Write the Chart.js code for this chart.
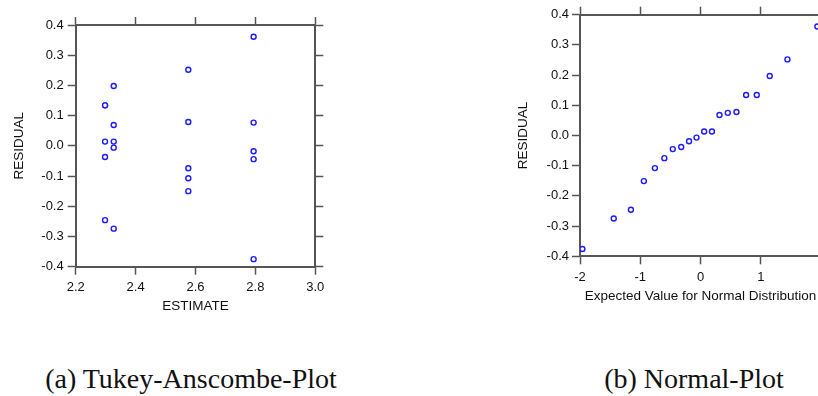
<!DOCTYPE html>
<html>
<head>
<meta charset="utf-8">
<script src="https://cdn.jsdelivr.net/npm/chart.js@4/dist/chart.umd.min.js"></script>
<style>
    html, body { margin: 0; padding: 0; background: #fff; overflow: hidden; width: 818px; height: 396px; }
    .plot { position: absolute; top: 0; }
    .caption { position: absolute; top: 365px; width: 340px; text-align: center; font-family: "Liberation Serif", serif; font-size: 28px; line-height: 28px; color: #111; white-space: nowrap; }
</style>
</head>
<body>
<div class="plot" style="left:0px"><canvas id="tukeyChart" width="340" height="320"></canvas></div>
<div class="plot" style="left:500px"><canvas id="normalChart" width="340" height="320"></canvas></div>
<div class="caption" style="left:21px">(a) Tukey-Anscombe-Plot</div>
<div class="caption" style="left:524px">(b) Normal-Plot</div>

<script>
// data
const tukeyEstimate = [2.298, 2.298, 2.298, 2.298, 2.298,
                       2.327, 2.327, 2.327, 2.327, 2.327,
                       2.576, 2.576, 2.576, 2.576, 2.576,
                       2.794, 2.794, 2.794, 2.794, 2.794];
const tukeyResidual = [0.134, 0.134, 0.014, -0.037, -0.246,
                       0.198, 0.069, 0.014, -0.006, -0.274,
                       0.252, 0.079, -0.074, -0.107, -0.150,
                       0.361, 0.077, -0.018, -0.044, -0.375];

const normalExpected = [-1.96, -1.44, -1.155, -0.94, -0.757, -0.60, -0.46, -0.32, -0.19, -0.066,
                        0.061, 0.19, 0.315, 0.453, 0.597, 0.757, 0.934, 1.149, 1.443, 1.94];
const normalResidual = [-0.376, -0.275, -0.246, -0.151, -0.108, -0.075, -0.045, -0.038, -0.019, -0.007,
                        0.013, 0.013, 0.068, 0.075, 0.078, 0.134, 0.134, 0.197, 0.252, 0.361];

// tick labels
const residualTicks = [-0.4, -0.3, -0.2, -0.1, 0.0, 0.1, 0.2, 0.3, 0.4];
const estimateTicks = [2.2, 2.4, 2.6, 2.8, 3.0];
const expectedTicks = [-2, -1, 0, 1, 2];

const axisColor = '#555555';
const markerColor = '#1c1cff';
const sansFont = '"Liberation Sans", Arial, sans-serif';

function toPoints(xs, ys) {
    return xs.map((x, i) => ({ x: x, y: ys[i] }));
}

// one linear axis with outside ticks only, size fixed so the plot area lands where it should
function makeAxis(position, tickValues, size, opts) {
    const horizontal = position === 'top' || position === 'bottom';
    return {
        type: 'linear',
        position: position,
        min: tickValues[0],
        max: tickValues[tickValues.length - 1],
        afterBuildTicks: function (axis) {
            axis.ticks = tickValues.map(v => ({ value: v }));
        },
        afterFit: function (axis) {
            if (horizontal) {
                axis.height = size;
            } else {
                axis.width = size;
            }
        },
        border: { display: true, color: axisColor, width: 2 },
        grid: {
            drawOnChartArea: false,
            drawTicks: true,
            tickLength: 8,
            tickWidth: 1.5,
            tickColor: axisColor
        },
        ticks: {
            display: opts.labels,
            padding: opts.tickPadding || 4,
            color: '#111',
            font: { family: sansFont, size: 13 },
            callback: opts.format
        },
        title: opts.title ? {
            display: true,
            text: opts.title,
            color: '#111',
            font: { family: sansFont, size: 13.5 },
            padding: opts.titlePadding
        } : { display: false }
    };
}

function makeScatter(canvasId, xs, ys, axes) {
    const ctx = document.getElementById(canvasId);
    return new Chart(ctx, {
        type: 'scatter',
        data: {
            datasets: [{
                data: toPoints(xs, ys),
                pointStyle: 'circle',
                pointRadius: 2.5,
                pointHoverRadius: 2.5,
                pointBorderWidth: 1.4,
                borderColor: markerColor,
                backgroundColor: '#ffffff'
            }]
        },
        options: {
            responsive: false,
            animation: false,
            layout: { padding: 0 },
            plugins: {
                legend: { display: false },
                tooltip: { enabled: false }
            },
            scales: axes
        }
    });
}

const fmt1 = v => Number(v).toFixed(1);
const fmt0 = v => Number(v).toFixed(0);

// (a) residuals against fitted values
makeScatter('tukeyChart', tukeyEstimate, tukeyResidual, {
    x: makeAxis('bottom', estimateTicks, 53.3, { labels: true, format: fmt1, tickPadding: 5, title: 'ESTIMATE', titlePadding: { top: 0, bottom: 6 } }),
    x2: makeAxis('top', estimateTicks, 25, { labels: false }),
    y: makeAxis('left', residualTicks, 75.7, { labels: true, format: fmt1, tickPadding: 4, title: 'RESIDUAL', titlePadding: { top: 11, bottom: 0 } }),
    y2: makeAxis('right', residualTicks, 24.7, { labels: false })
});

// (b) sorted residuals against normal quantiles
makeScatter('normalChart', normalExpected, normalResidual, {
    x: makeAxis('bottom', expectedTicks, 63.7, { labels: true, format: fmt0, tickPadding: 5, title: 'Expected Value for Normal Distribution', titlePadding: { top: 0, bottom: 16 } }),
    x2: makeAxis('top', expectedTicks, 14.7, { labels: false }),
    y: makeAxis('left', residualTicks, 80, { labels: true, format: fmt1, tickPadding: 3, title: 'RESIDUAL', titlePadding: { top: 15, bottom: 0 } }),
    y2: makeAxis('right', residualTicks, 19, { labels: false })
});
</script>
</body>
</html>
